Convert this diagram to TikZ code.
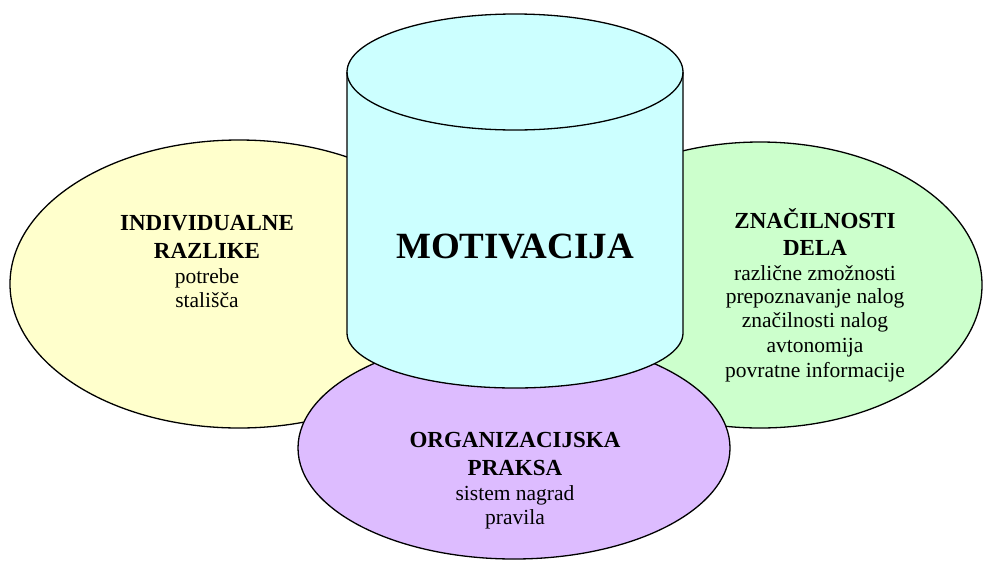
\documentclass[tikz,border=0pt]{standalone}
\usepackage{fontspec}
\setmainfont{Liberation Serif}
\definecolor{yel}{RGB}{255,255,204}
\definecolor{grn}{RGB}{204,255,204}
\definecolor{cyn}{RGB}{204,255,255}
\definecolor{pur}{RGB}{221,188,255}
\tikzset{
  shape line/.style={draw=black, line width=1.3pt},
  headtxt/.style={anchor=base, inner sep=0pt, font=\fontsize{23}{27}\selectfont\bfseries},
  bodytxt/.style={anchor=base, inner sep=0pt, font=\fontsize{21.5}{24}\selectfont},
  titletxt/.style={anchor=base, inner sep=0pt, font=\fontsize{37}{40}\selectfont\bfseries}
}
\begin{document}
\begin{tikzpicture}[x=1pt,y=-1pt]
\useasboundingbox (0,0) rectangle (984,560);
% side ellipses
\draw[shape line, fill=yel] (239,284) ellipse [x radius=229pt, y radius=144pt];
\draw[shape line, fill=grn] (760,285) ellipse [x radius=222pt, y radius=143pt];
% bottom ellipse
\draw[shape line, fill=pur] (514,448) ellipse [x radius=216pt, y radius=111pt];
% cylinder
\draw[shape line, fill=cyn] (347,72) -- (347,333)
  arc[start angle=180, end angle=360, x radius=168pt, y radius=55pt]
  -- (683,72)
  arc[start angle=0, end angle=180, x radius=168pt, y radius=58pt] -- cycle;
\draw[shape line] (347,72) arc[start angle=180, end angle=360, x radius=168pt, y radius=58pt];
% texts
\node[titletxt] (mot) at (515,258) {MOTIVACIJA};
\node[headtxt] (l1) at (207,230) {INDIVIDUALNE};
\node[headtxt] (l2) at (207,258) {RAZLIKE};
\node[bodytxt] (l3) at (207,283) {potrebe};
\node[bodytxt] (l4) at (207,307) {stališča};
\node[headtxt] (r1) at (815,228) {ZNAČILNOSTI};
\node[headtxt] (r2) at (815,255) {DELA};
\node[bodytxt] (r3) at (815,280) {različne zmožnosti};
\node[bodytxt] (r4) at (815,303) {prepoznavanje nalog};
\node[bodytxt] (r5) at (815,327) {značilnosti nalog};
\node[bodytxt] (r6) at (815,352) {avtonomija};
\node[bodytxt] (r7) at (815,377) {povratne informacije};
\node[headtxt] (b1) at (515,447) {ORGANIZACIJSKA};
\node[headtxt] (b2) at (515,475) {PRAKSA};
\node[bodytxt] (b3) at (515,500) {sistem nagrad};
\node[bodytxt] (b4) at (515,524) {pravila};
\end{tikzpicture}
\end{document}
